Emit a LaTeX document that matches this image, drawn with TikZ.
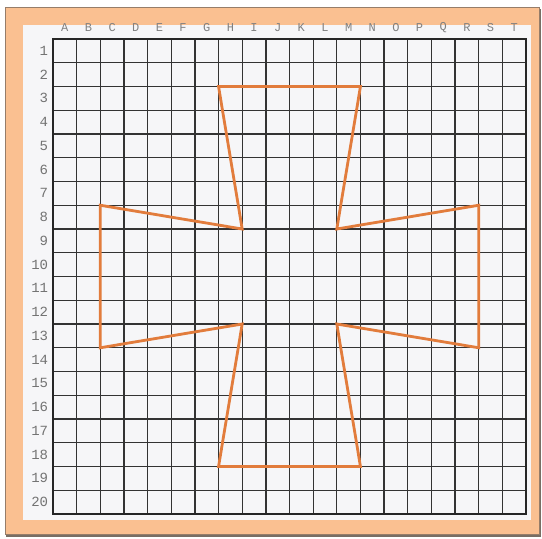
\documentclass[tikz,border=0pt]{standalone}
\usepackage{fontspec}
\setmonofont{Liberation Mono}
\definecolor{frameorange}{RGB}{250,192,145}
\definecolor{framebrown}{RGB}{150,125,105}
\definecolor{shadowgray}{RGB}{120,110,100}
\definecolor{paper}{RGB}{246,246,248}
\definecolor{crossorange}{RGB}{226,124,60}
\begin{document}
\begin{tikzpicture}[x=1pt,y=-1pt,
  gridline/.style={draw=black!80,line width=1.3pt},
  gridborder/.style={draw=black!85,line width=2pt},
  crossline/.style={draw=crossorange,line width=2.8pt,line join=miter},
  collabel/.style={font=\ttfamily\fontsize{12}{12}\selectfont,text=black!50,inner sep=0pt},
  rowlabel/.style={font=\ttfamily\fontsize{14}{14}\selectfont,text=black!55,inner sep=0pt,anchor=east}]
\useasboundingbox (0,0) rectangle (542,539);
\fill[white] (0,0) rectangle (542,539);
\fill[shadowgray] (6,9) rectangle (541,537);
\filldraw[fill=frameorange,draw=framebrown,line width=0.8pt] (5,7) rectangle (539,534);
\fill[paper] (23,25) rectangle (531,520);
\begin{scope}[shift={(53,39)},x=23.65pt,y=-23.75pt]
  \foreach \i in {1,...,19} {
    \draw[gridline] (\i,0) -- (\i,20);
    \draw[gridline] (0,\i) -- (20,\i);
  }
  \draw[gridborder] (0,0) rectangle (20,20);
  \foreach \l [count=\c] in {A,B,C,D,E,F,G,H,I,J,K,L,M,N,O,P,Q,R,S,T}
    \node[collabel] (col\l) at (\c-0.5,-0.5) {\l};
  \foreach \r in {1,...,20}
    \node[rowlabel] (row\r) at (-0.2,\r-0.5) {\r};
  \draw[crossline] (7,2) -- (13,2) -- (12,8) -- (18,7) -- (18,13) -- (12,12)
    -- (13,18) -- (7,18) -- (8,12) -- (2,13) -- (2,7) -- (8,8) -- cycle;
\end{scope}
\end{tikzpicture}
\end{document}
